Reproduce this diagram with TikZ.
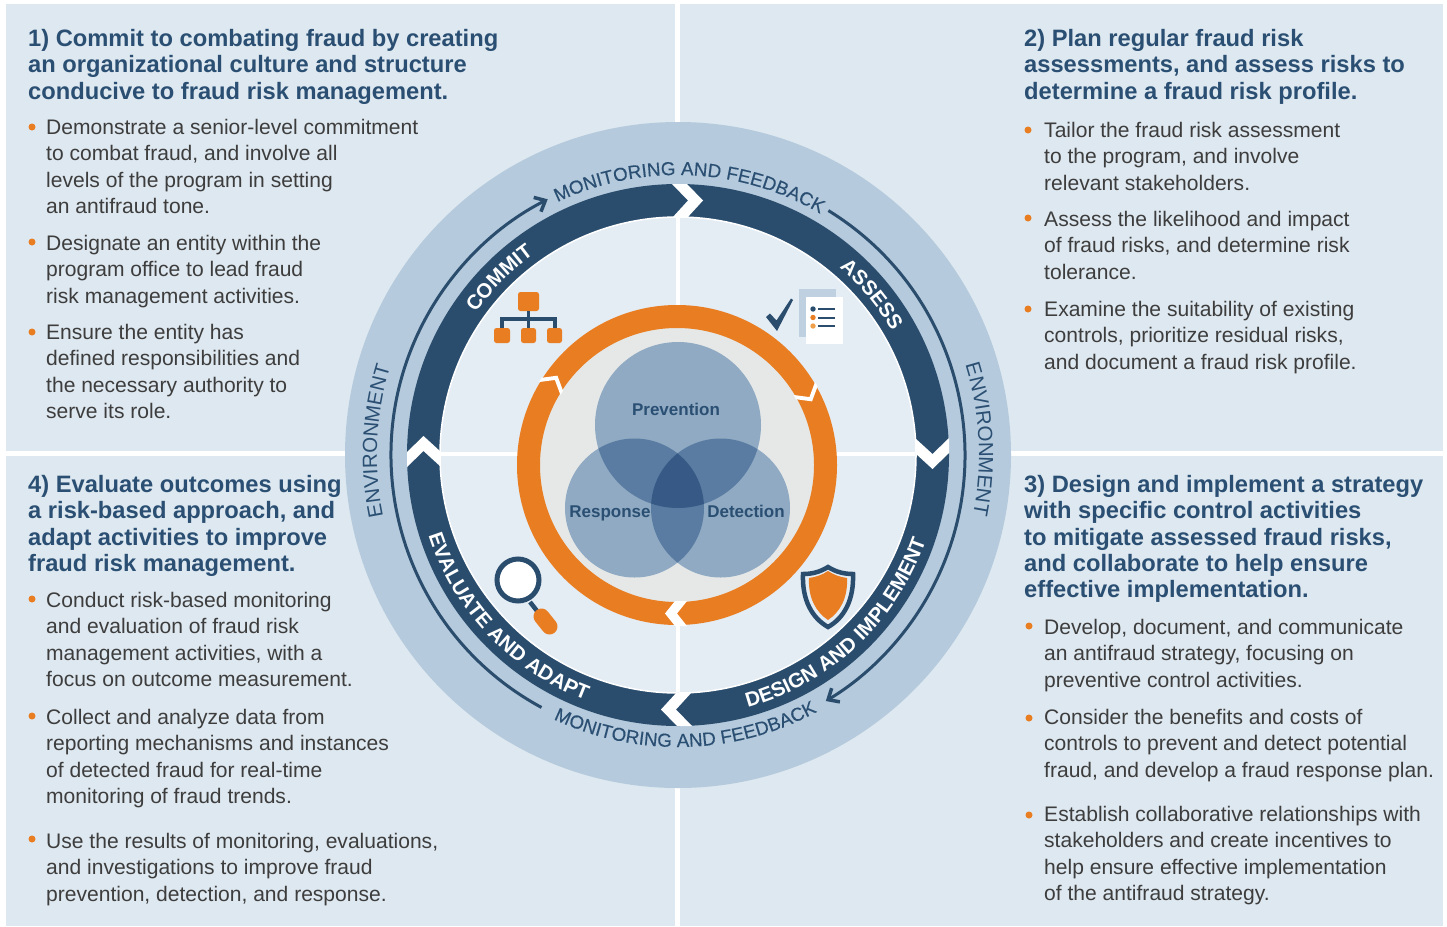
\documentclass[tikz,border=0pt]{standalone}
\usepackage{fontspec}
\setmainfont{Liberation Sans}
\newfontfamily\ringfamily[FakeBold=0.25]{Liberation Sans}
\usepackage{tikz}
\usetikzlibrary{arrows.meta,decorations.text}

\definecolor{panelblue}{HTML}{DEE8F0}
\definecolor{ringblue}{HTML}{B5CADC}
\definecolor{innerblue}{HTML}{E4ECF4}
\definecolor{navy}{HTML}{2A4D6E}
\definecolor{headblue}{HTML}{2A4F73}
\definecolor{bodygray}{HTML}{3D3D3D}
\definecolor{fraudorange}{HTML}{E97D21}
\definecolor{lightorange}{HTML}{F0A04B}
\definecolor{discgray}{HTML}{E6E8E8}
\definecolor{vennone}{HTML}{8FAAC2}
\definecolor{venntwo}{HTML}{5A7CA2}
\definecolor{vennthree}{HTML}{365A85}
\definecolor{paperblue}{HTML}{BFD0E0}

\newcommand{\bandfont}{\fontsize{20.4}{22}\selectfont\bfseries}
\newcommand{\feedfont}{\ringfamily\fontsize{18.8}{20}\selectfont}
\newcommand{\envfont}{\fontsize{20.5}{23}\selectfont}

\begin{document}
\begin{tikzpicture}[x=1pt,y=1pt]
\tikzstyle{panel} = [fill=panelblue]
\tikzstyle{head} = [anchor=north west, inner sep=0pt, align=left, text=headblue, font=\fontsize{23.7}{26.3}\selectfont\bfseries, execute at begin node=\strut]
\tikzstyle{body} = [anchor=north west, inner sep=0pt, align=left, text=bodygray, font=\fontsize{21.05}{26.3}\selectfont, execute at begin node=\strut]
\tikzstyle{bullet} = [circle, fill=fraudorange, inner sep=0pt, minimum size=7pt]
\tikzstyle{venn} = [anchor=base, inner sep=0pt, text=headblue, font=\fontsize{17}{19}\selectfont\bfseries]
\tikzstyle{feedarrow} = [navy, line width=3pt, -{Straight Barb[length=9pt,width=16pt,line width=3.5pt]}]
\tikzstyle{bandword} = [decorate, decoration={text along path, text align=center, text color=white}]
\tikzstyle{ringword} = [decorate, decoration={text along path, text align=center, text color=headblue}]
\tikzstyle{orgbox} = [fill=fraudorange, rounded corners=2.5pt]
\tikzstyle{orgline} = [navy, line width=3.5pt]
\tikzstyle{listline} = [navy, line width=2pt]

\useasboundingbox (0,0) rectangle (1447,-926);
\fill [white] (0,0) rectangle (1447,-926);

\fill [panel] (6,-4) rectangle (675,-451);
\fill [panel] (679.5,-4) rectangle (1443,-451);
\fill [panel] (6,-455.5) rectangle (675,-926);
\fill [panel] (679.5,-455.5) rectangle (1443,-926);

\begin{scope}[shift={(678,-455)}]
\fill [ringblue] (0,0) circle [radius=333];
\draw [navy, line width=33pt] (0,0) circle [radius=254.5];

\fill [white] (-6,271) -- (9,271) -- (25,254.5) -- (9,237) -- (-6,237) -- (10,254.5) -- cycle;
\fill [white, rotate=-90] (-17,271) -- (-2,271) -- (14,254.5) -- (-2,237) -- (-17,237) -- (-1,254.5) -- cycle;
\fill [white, rotate=-180] (-14,271) -- (1,271) -- (17,254.5) -- (1,237) -- (-14,237) -- (2,254.5) -- cycle;
\fill [white, rotate=-270] (-12,271) -- (3,271) -- (19,254.5) -- (3,237) -- (-12,237) -- (4,254.5) -- cycle;

\draw [feedarrow] (241.6:287) arc [start angle=241.6, end angle=117, radius=287];
\draw [feedarrow] (58.4:287) arc [start angle=58.4, end angle=-59, radius=287];

\filldraw [fill=innerblue, draw=white, line width=1.5pt] (0,0) circle [radius=238];
\fill [white] (-2.5,-237) rectangle (1.5,237);
\fill [white] (-237,-0.5) rectangle (237,3.5);

\path [bandword, decoration={text={|\bandfont|COMMIT}}] (180.3:247) arc [start angle=180.3, end angle=90.3, radius=247];
\path [bandword, decoration={text={|\bandfont|ASSESS}}] (84.6:247) arc [start angle=84.6, end angle=-5.4, radius=247];
\path [bandword, decoration={text={|\bandfont|DESIGN AND IMPLEMENT}}] (268.2:262) arc [start angle=268.2, end angle=358.2, radius=262];
\path [bandword, decoration={text={|\bandfont|EVALUATE AND ADAPT}}] (178.6:262) arc [start angle=178.6, end angle=268.6, radius=262];

\path [ringword, decoration={text={|\feedfont|MONITORING AND FEEDBACK}}] (132.5:280) arc [start angle=132.5, end angle=42.5, radius=280];
\path [ringword, decoration={text={|\feedfont|MONITORING AND FEEDBACK}}] (226.6:292) arc [start angle=226.6, end angle=316.6, radius=292];
\path [ringword, decoration={text={|\envfont|ENVIRONMENT}}] (222.3:301) arc [start angle=222.3, end angle=132.3, radius=301];
\path [ringword, decoration={text={|\envfont|ENVIRONMENT}}] (48:301) arc [start angle=48, end angle=-42, radius=301];
\end{scope}

\begin{scope}[shift={(677,-465)}]
\fill [discgray] (0,0) circle [radius=138];
\draw [fraudorange, line width=23pt] (0,0) circle [radius=148.5];
\fill [white, rotate=59] (0,161) -- (5,161) -- (15,148.5) -- (5,136) -- (0,136) -- (10,148.5) -- cycle;
\fill [white, rotate=-59] (0,161) -- (5,161) -- (15,148.5) -- (5,136) -- (0,136) -- (10,148.5) -- cycle;
\fill [white, rotate=180] (-10,161) -- (2,161) -- (12,148.5) -- (2,136) -- (-10,136) -- (0,148.5) -- cycle;
\end{scope}

\fill [vennone] (678,-425) circle [radius=83];
\fill [vennone] (634.5,-508) circle [radius=69.5];
\fill [vennone] (720.5,-508) circle [radius=69.5];
\begin{scope}
\clip (678,-425) circle [radius=83];
\fill [venntwo] (634.5,-508) circle [radius=69.5];
\fill [venntwo] (720.5,-508) circle [radius=69.5];
\end{scope}
\begin{scope}
\clip (634.5,-508) circle [radius=69.5];
\fill [venntwo] (720.5,-508) circle [radius=69.5];
\clip (720.5,-508) circle [radius=69.5];
\fill [vennthree] (678,-425) circle [radius=83];
\end{scope}

\node (prevention) [venn] at (676,-415) {Prevention};
\node (response) [venn] at (610,-517) {Response};
\node (detection) [venn] at (746,-517) {Detection};

\fill [orgbox] (518,-292) rectangle (539,-311);
\draw [orgline] (528.5,-311) -- (528.5,-330);
\draw [orgline] (502,-330) -- (502,-319) -- (555,-319) -- (555,-330);
\fill [orgbox] (494,-328) rectangle (510,-343);
\fill [orgbox] (521,-328) rectangle (536,-343);
\fill [orgbox] (547,-328) rectangle (562,-343);

\fill [navy] (766,-317) -- (770,-313.5) -- (776.5,-320.5) -- (791,-298.5) -- (793,-300) -- (777,-331) -- cycle;
\fill [paperblue] (799,-289) rectangle (836,-337);
\fill [white] (806,-297) rectangle (843,-344);
\fill [navy] (813,-309) circle [radius=2.7];
\fill [fraudorange] (813,-317.5) circle [radius=2.7];
\fill [lightorange] (813,-326) circle [radius=2.7];
\draw [listline] (818,-309) -- (835,-309);
\draw [listline] (818,-317.5) -- (835,-317.5);
\draw [listline] (818,-326) -- (835,-326);

\draw [navy, line width=4.5pt] (530,-602) -- (541,-616);
\draw [fraudorange, line width=16pt, line cap=round] (541.5,-616.5) -- (549.5,-626.5);
\filldraw [fill=white, draw=navy, line width=5pt] (518,-580) circle [radius=21];

\filldraw [fill=innerblue, draw=navy, line width=4.5pt] (828,-567) .. controls (820,-572) and (812,-574) .. (803,-574) .. controls (802,-600) and (812,-618) .. (828,-627) .. controls (844,-618) and (854,-600) .. (853,-574) .. controls (844,-574) and (836,-572) .. (828,-567) -- cycle;
\fill [fraudorange] (828,-571) .. controls (822,-575) and (816,-577) .. (809,-578) .. controls (808,-598) and (816,-612) .. (828,-620) .. controls (840,-612) and (848,-598) .. (847,-578) .. controls (840,-577) and (834,-575) .. (828,-571) -- cycle;

\node (head1) [head] at (28,-29.1) {1) Commit to combating fraud by creating\\an organizational culture and structure\\conducive to fraud risk management.};
\node (dot11) [bullet] at (32,-127) {};
\node (text11) [body] at (46,-119.1) {Demonstrate a senior-level commitment\\to combat fraud, and involve all\\levels of the program in setting\\an antifraud tone.};
\node (dot12) [bullet] at (32,-242) {};
\node (text12) [body] at (46,-235.1) {Designate an entity within the\\program office to lead fraud\\risk management activities.};
\node (dot13) [bullet] at (32,-332) {};
\node (text13) [body] at (46,-324.1) {Ensure the entity has\\defined responsibilities and\\the necessary authority to\\serve its role.};

\node (head2) [head] at (1024,-29.1) {2) Plan regular fraud risk\\assessments, and assess risks to\\determine a fraud risk profile.};
\node (dot21) [bullet] at (1028,-130) {};
\node (text21) [body] at (1044,-122.1) {Tailor the fraud risk assessment\\to the program, and involve\\relevant stakeholders.};
\node (dot22) [bullet] at (1028,-218) {};
\node (text22) [body] at (1044,-211.1) {Assess the likelihood and impact\\of fraud risks, and determine risk\\tolerance.};
\node (dot23) [bullet] at (1028,-309) {};
\node (text23) [body] at (1044,-301.1) {Examine the suitability of existing\\controls, prioritize residual risks,\\and document a fraud risk profile.};

\node (head3) [head] at (1024,-475.1) {3) Design and implement a strategy\\with specific control activities\\to mitigate assessed fraud risks,\\and collaborate to help ensure\\effective implementation.};
\node (dot31) [bullet] at (1029,-626) {};
\node (text31) [body] at (1044,-619.1) {Develop, document, and communicate\\an antifraud strategy, focusing on\\preventive control activities.};
\node (dot32) [bullet] at (1029,-718) {};
\node (text32) [body] at (1044,-709.1) {Consider the benefits and costs of\\controls to prevent and detect potential\\fraud, and develop a fraud response plan.};
\node (dot33) [bullet] at (1029,-815) {};
\node (text33) [body] at (1044,-806.1) {Establish collaborative relationships with\\stakeholders and create incentives to\\help ensure effective implementation\\of the antifraud strategy.};

\node (head4) [head] at (28,-475.1) {4) Evaluate outcomes using\\a risk-based approach, and\\adapt activities to improve\\fraud risk management.};
\node (dot41) [bullet] at (32,-599) {};
\node (text41) [body] at (46,-592.1) {Conduct risk-based monitoring\\and evaluation of fraud risk\\management activities, with a\\focus on outcome measurement.};
\node (dot42) [bullet] at (32,-716) {};
\node (text42) [body] at (46,-709.1) {Collect and analyze data from\\reporting mechanisms and instances\\of detected fraud for real-time\\monitoring of fraud trends.};
\node (dot43) [bullet] at (32,-839) {};
\node (text43) [body] at (46,-833.1) {Use the results of monitoring, evaluations,\\and investigations to improve fraud\\prevention, detection, and response.};

\end{tikzpicture}
\end{document}
